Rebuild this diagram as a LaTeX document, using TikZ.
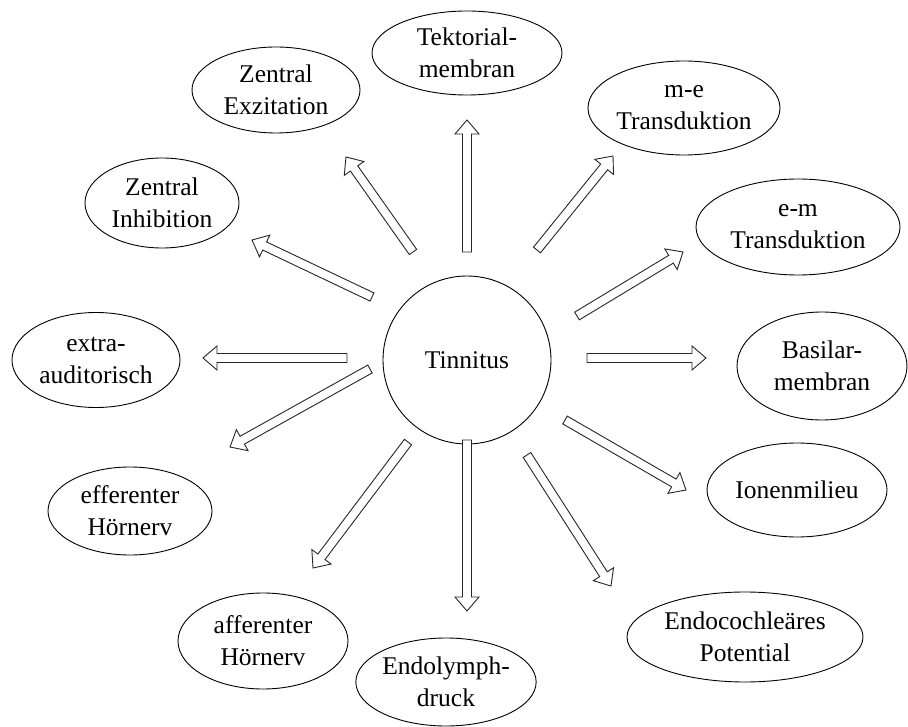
\documentclass[tikz,border=0pt]{standalone}
\usepackage{fontspec}
\setmainfont{Liberation Serif}
\usetikzlibrary{calc,shapes.geometric}

% hollow block arrow from tail #1 to tip #2
\newcommand\blockarrow[2]{%
  \draw[blockline] let \p1=($(#2)-(#1)$), \n1={atan2(\y1,\x1)} in
    ($(#1)+(\n1-90:4.5pt)$)
    -- ($(#2)+(\n1+180:14pt)+(\n1-90:4.5pt)$)
    -- ($(#2)+(\n1+180:14pt)+(\n1-90:12pt)$)
    -- (#2)
    -- ($(#2)+(\n1+180:14pt)+(\n1+90:12pt)$)
    -- ($(#2)+(\n1+180:14pt)+(\n1+90:4.5pt)$)
    -- ($(#1)+(\n1+90:4.5pt)$) -- cycle;}

\begin{document}
\begin{tikzpicture}[x=1pt,y=-1pt,
  every node/.style={font=\fontsize{25.5}{32}\selectfont},
  topic/.style={draw=black, line width=0.9pt, ellipse, inner sep=0pt, align=center},
  hub/.style={draw=black, line width=0.9pt, circle, inner sep=0pt, minimum size=168pt},
  blockline/.style={draw=black!85, line width=0.9pt, fill=white, line join=miter}]

\useasboundingbox (0,0) rectangle (908,727);

% centre
\node[hub] (tin) at (467,360) {Tinnitus};

% surrounding topics
\node[topic, minimum width=190pt, minimum height=84pt] (tek) at (467,53) {Tektorial-\\membran};
\node[topic, minimum width=168pt, minimum height=86pt] (exz) at (276,90) {Zentral\\Exzitation};
\node[topic, minimum width=192pt, minimum height=94pt] (me) at (684,108) {m-e\\Transduktion};
\node[topic, minimum width=154pt, minimum height=90pt] (inh) at (162,203) {Zentral\\Inhibition};
\node[topic, minimum width=204pt, minimum height=96pt] (em) at (798,227) {e-m\\Transduktion};
\node[topic, minimum width=168pt, minimum height=95pt] (ext) at (96,360) {extra-\\auditorisch};
\node[topic, minimum width=170pt, minimum height=108pt] (bas) at (822,366) {Basilar-\\membran};
\node[topic, minimum width=180pt, minimum height=94pt] (ion) at (797,490) {Ionenmilieu};
\node[topic, minimum width=164pt, minimum height=88pt] (eff) at (130,511) {efferenter\\Hörnerv};
\node[topic, minimum width=170pt, minimum height=96pt] (aff) at (263,641) {afferenter\\Hörnerv};
\node[topic, minimum width=236pt, minimum height=90pt] (endo) at (745,637) {Endocochleäres\\Potential};
\node[topic, minimum width=162pt, minimum height=88pt] (lym) at (446,682) {Endolymph-\\druck};

% arrow tails and tips
\coordinate (tTek) at (467,252);  \coordinate (hTek) at (467,120);
\coordinate (tExz) at (413,252);  \coordinate (hExz) at (346,157);
\coordinate (tMe)  at (537,250);  \coordinate (hMe)  at (613,156);
\coordinate (tEm)  at (577,316);  \coordinate (hEm)  at (683,252);
\coordinate (tInh) at (372,297);  \coordinate (hInh) at (252,240);
\coordinate (tExt) at (347,358);  \coordinate (hExt) at (203,358);
\coordinate (tBas) at (587,358);  \coordinate (hBas) at (706,358);
\coordinate (tIon) at (565,420);  \coordinate (hIon) at (686,490);
\coordinate (tEff) at (370,369);  \coordinate (hEff) at (230,447);
\coordinate (tAff) at (408,442);  \coordinate (hAff) at (313,568);
\coordinate (tLym) at (467,440);  \coordinate (hLym) at (467,611);
\coordinate (tEndo) at (527,455); \coordinate (hEndo) at (611,586);

\blockarrow{tTek}{hTek}
\blockarrow{tExz}{hExz}
\blockarrow{tMe}{hMe}
\blockarrow{tEm}{hEm}
\blockarrow{tInh}{hInh}
\blockarrow{tExt}{hExt}
\blockarrow{tBas}{hBas}
\blockarrow{tIon}{hIon}
\blockarrow{tEff}{hEff}
\blockarrow{tAff}{hAff}
\blockarrow{tLym}{hLym}
\blockarrow{tEndo}{hEndo}

\end{tikzpicture}
\end{document}
